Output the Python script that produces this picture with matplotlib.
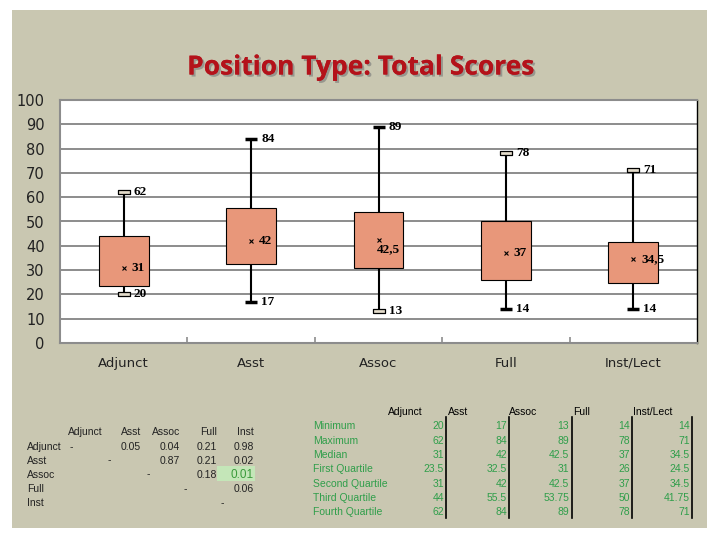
import numpy as np
import matplotlib
matplotlib.use("Agg")
import matplotlib.pyplot as plt
import matplotlib.patheffects as pe
from matplotlib.patches import Rectangle

# ---- data ----
categories = ["Adjunct", "Asst", "Assoc", "Full", "Inst/Lect"]
minimum = [20, 17, 13, 14, 14]
maximum = [62, 84, 89, 78, 71]
median = [31, 42, 42.5, 37, 34.5]
q1 = [23.5, 32.5, 31, 26, 24.5]
q3 = [44, 55.5, 53.75, 50, 41.75]
# which whisker caps are drawn hollow in the original
hollow_max = [True, False, False, True, True]
hollow_min = [True, False, True, False, False]

# pairwise p-values (upper triangle)
pair_names = ["Adjunct", "Asst", "Assoc", "Full", "Inst"]
pvals = [
    [None, "0.05", "0.04", "0.21", "0.98"],
    [None, None, "0.87", "0.21", "0.02"],
    [None, None, None, "0.18", "0.01"],
    [None, None, None, None, "0.06"],
    [None, None, None, None, None],
]

stat_rows = ["Minimum", "Maximum", "Median", "First Quartile",
             "Second Quartile", "Third Quartile", "Fourth Quartile"]
stat_vals = [
    ["20", "17", "13", "14", "14"],
    ["62", "84", "89", "78", "71"],
    ["31", "42", "42.5", "37", "34.5"],
    ["23.5", "32.5", "31", "26", "24.5"],
    ["31", "42", "42.5", "37", "34.5"],
    ["44", "55.5", "53.75", "50", "41.75"],
    ["62", "84", "89", "78", "71"],
]

BG = "#C9C7B1"
BOX = "#E8977A"
GRID = "#8C8C8C"
GREEN = "#2F9E4A"

W, H = 720, 540
fig = plt.figure(figsize=(7.2, 5.4), dpi=100)
fig.patch.set_facecolor("white")


def px(x, y):
    return x / W, 1 - y / H


# slide background
fig.patches.append(Rectangle(px(12, 528), 695 / W, 518 / H, transform=fig.transFigure,
                             facecolor=BG, edgecolor="none", zorder=-5))

fig.text(*px(360, 67), "Position Type: Total Scores", ha="center", va="center",
         fontsize=19, fontweight="bold", family="Open Sans", color="#B4121A",
         path_effects=[pe.withSimplePatchShadow(offset=(1.5, -1.5), shadow_rgbFace="#777777", alpha=0.6),
                       pe.Normal()])

# ---- box chart ----
ax = fig.add_axes([60 / W, (H - 343) / H, 637 / W, 243 / H])
ax.set_facecolor("white")
x = np.arange(len(categories))
ax.set_xlim(-0.5, len(categories) - 0.5)
ax.set_ylim(0, 100)
ax.set_yticks(np.arange(0, 101, 10))
ax.yaxis.grid(True, color=GRID, lw=1.4)
ax.set_axisbelow(True)
ax.tick_params(axis="y", length=0, pad=11, labelsize=10.5, labelcolor="#222222")

ax.set_xticks(x)
ax.set_xticklabels(categories, fontsize=9.5, color="#222222")
ax.tick_params(axis="x", which="major", length=0, pad=10)
ax.set_xticks(x[:-1] + 0.5, minor=True)
ax.tick_params(axis="x", which="minor", direction="in", length=4, width=1.2, color=GRID)

for side in ["left", "bottom", "top"]:
    ax.spines[side].set_color(GRID)
    ax.spines[side].set_linewidth(1.5)
ax.spines["right"].set_color("black")
ax.spines["right"].set_linewidth(1)

heights = [b - a for a, b in zip(q1, q3)]
ax.bar(x, heights, bottom=q1, width=0.39, color=BOX, edgecolor="black", lw=0.8, zorder=3)
ax.vlines(x, q3, maximum, color="black", lw=1.5, zorder=2)
ax.vlines(x, minimum, q1, color="black", lw=1.5, zorder=2)

cap_rect = [(-1, -0.4), (1, -0.4), (1, 0.4), (-1, 0.4), (-1, -0.4)]
for xi, lo, hi, hlo, hhi in zip(x, minimum, maximum, hollow_min, hollow_max):
    for val, hollow in ((hi, hhi), (lo, hlo)):
        if hollow:
            ax.plot(xi, val, marker=cap_rect, ms=8, mfc="#E4DCCB", mec="black", mew=0.9, zorder=4)
        else:
            ax.plot(xi, val, marker="_", ms=8, mew=2.5, color="black", zorder=4)

ax.plot(x, median, "x", ms=3.5, mew=0.8, color="black", zorder=5)

lab_font = dict(family="Liberation Serif", fontsize=9.5, fontweight="bold", color="black",
                va="center", ha="left")
for xi, lo, hi in zip(x, minimum, maximum):
    ax.annotate(f"{hi}", (xi, hi), xytext=(10, 0), textcoords="offset pixels", zorder=6, **lab_font)
    ax.annotate(f"{lo}", (xi, lo), xytext=(10, 0), textcoords="offset pixels", zorder=6, **lab_font)

med_offsets = [(8, 0), (8, 0), (-2, -9), (8, 0), (8, 0)]
for xi, m, off in zip(x, median, med_offsets):
    txt = f"{m:g}".replace(".", ",")
    ax.annotate(txt, (xi, m), xytext=off, textcoords="offset pixels", zorder=6, **lab_font)

# ---- pairwise table ----
tfont = dict(family="Liberation Sans", fontsize=7.5, color="#222222", va="center")
col_right = [103, 141, 180, 217, 254]
row_y = [446.7, 460.5, 474.5, 488.7, 503]
for name, xr in zip(pair_names, col_right):
    fig.text(*px(xr, 431.7), name, ha="right", **tfont)
for i, name in enumerate(pair_names):
    fig.text(*px(27, row_y[i]), name, ha="left", **tfont)
    fig.text(*px(col_right[i] - 32, row_y[i]), "-", ha="center", **tfont)
    for j, v in enumerate(pvals[i]):
        if v is None:
            continue
        if v == "0.01":
            fig.patches.append(Rectangle(px(217, 481), 38 / W, 15 / H, transform=fig.transFigure,
                                         facecolor="#C4E6B8", edgecolor="none", zorder=1))
            fig.text(*px(col_right[j], row_y[i]), v, ha="right", family="Liberation Sans",
                     fontsize=8.5, color="#3A9A3A", va="center")
        else:
            fig.text(*px(col_right[j], row_y[i]), v, ha="right", **tfont)

# ---- summary table ----
head_left = [388, 448, 509, 573, 633]
head_names = ["Adjunct", "Asst", "Assoc", "Full", "Inst/Lect"]
for name, xl in zip(head_names, head_left):
    fig.text(*px(xl, 411.7), name, ha="left", family="Liberation Sans", fontsize=7.5,
             color="black", va="center")
val_right = [444, 507, 569, 630, 690]
srow_y = [425.7, 440.7, 455, 469.3, 484, 498.3, 511.7]
gfont = dict(family="Liberation Sans", fontsize=7.5, color=GREEN, va="center")
for i, name in enumerate(stat_rows):
    fig.text(*px(313, srow_y[i]), name, ha="left", **gfont)
    for j, v in enumerate(stat_vals[i]):
        fig.text(*px(val_right[j], srow_y[i]), v, ha="right", **gfont)
for xl in [446, 509, 572, 632, 692]:
    fig.add_artist(plt.Line2D([xl / W, xl / W], [1 - 417 / H, 1 - 518 / H],
                              transform=fig.transFigure, color="black", lw=1.2))

fig.savefig("out.png", dpi=100, facecolor=fig.get_facecolor())
